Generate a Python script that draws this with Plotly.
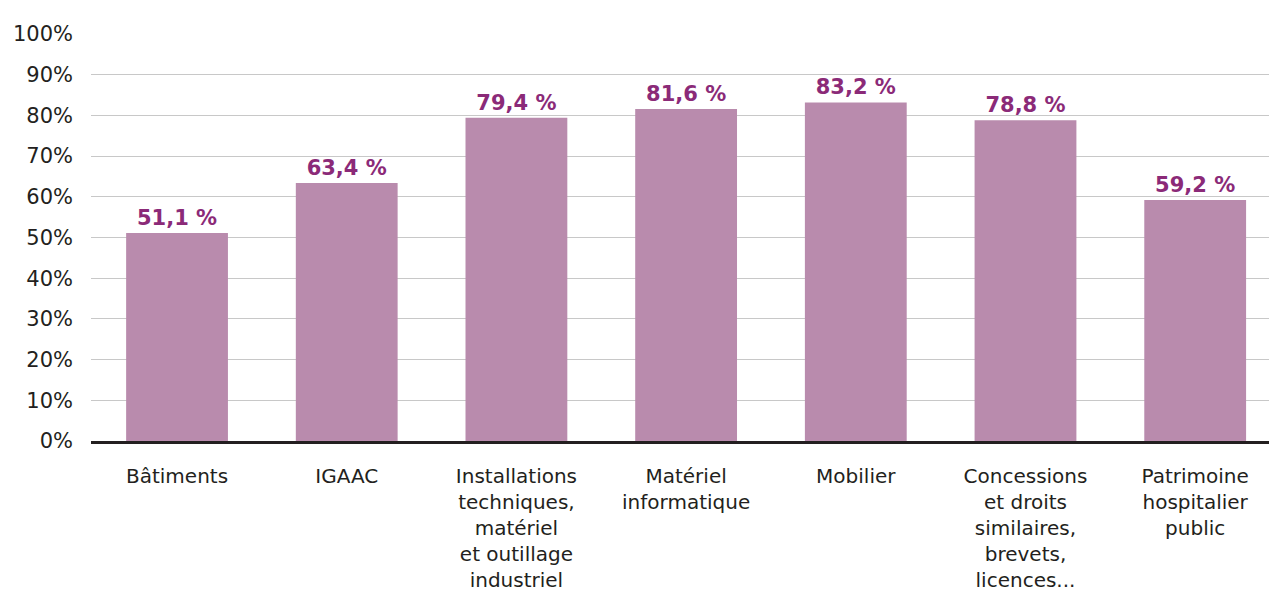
import plotly.graph_objects as go

categories = ["Bâtiments", "IGAAC", "Installations<br>techniques,<br>matériel<br>et outillage<br>industriel",
              "Matériel<br>informatique", "Mobilier", "Concessions<br>et droits<br>similaires,<br>brevets,<br>licences...",
              "Patrimoine<br>hospitalier<br>public"]
values = [51.1, 63.4, 79.4, 81.6, 83.2, 78.8, 59.2]
labels = [f"{v:.1f} %".replace(".", ",") for v in values]
tick_vals = [0, 10, 20, 30, 40, 50, 60, 70, 80, 90, 100]
tick_text = [f"{t}%" for t in tick_vals]

FONT = "DejaVu Sans"

fig = go.Figure(go.Bar(
    x=list(range(len(categories))), y=values, text=labels, textposition="outside",
    textfont=dict(family=FONT, size=21, color="#8b2a78", weight="bold"),
    marker=dict(color="#b98bad", line=dict(width=0)),
    width=0.6, cliponaxis=False,
))

fig.update_layout(
    width=1269, height=591,
    margin=dict(l=91, r=0, t=34, b=150),
    plot_bgcolor="white", paper_bgcolor="white",
    showlegend=False,
    font=dict(family=FONT, color="#231f20"),
)
fig.update_yaxes(range=[0, 100], tickvals=tick_vals, ticktext=tick_text,
                 showgrid=True, gridcolor="#c8c8c8", gridwidth=1.3,
                 zeroline=False, showline=False, automargin=False,
                 tickfont=dict(family=FONT, size=21, color="#231f20"),
                 ticklabelstandoff=17)
fig.update_xaxes(range=[-0.507, 6.435], tickvals=list(range(len(categories))), ticktext=categories,
                 showline=True, linecolor="#231f20", linewidth=3, automargin=False,
                 tickfont=dict(family=FONT, size=20, color="#231f20"),
                 ticklabelstandoff=15, ticks="")
fig.write_html("out.html")
